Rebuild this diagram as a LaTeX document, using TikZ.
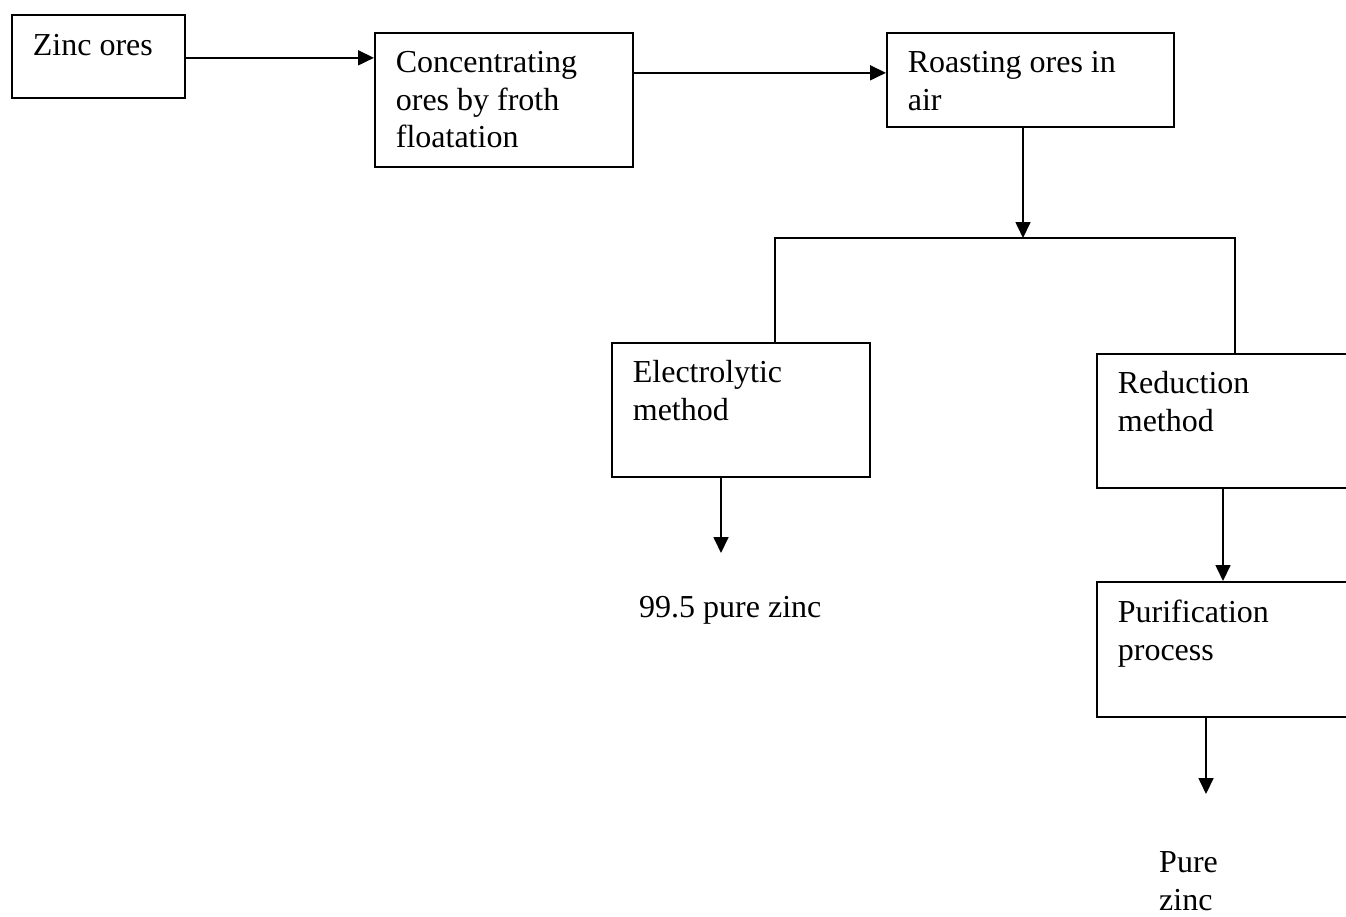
\documentclass[tikz,border=0pt]{standalone}
\usepackage{fontspec}
\setmainfont{Liberation Serif}
\usetikzlibrary{positioning, arrows.meta}

\begin{document}
\begin{tikzpicture}[
    x=1pt, y=-1pt,
    font=\fontsize{32}{37.5}\selectfont,
    stagebox/.style={draw=black, line width=1.7pt, anchor=north west, align=flush left,
        inner xsep=21pt, inner ysep=0pt, text height=40pt},
    plain/.style={anchor=base west, align=flush left, inner sep=0pt},
    joined/.style={line width=1.7pt},
    directed/.style={-{Triangle[length=16pt,width=15pt]}, line width=1.7pt}
]
\useasboundingbox (0,0) rectangle (1346,916);
\clip (0,0) rectangle (1346,916);

% Nodes
\node[stagebox, text width=131pt, text height=41pt, text depth=42pt] (ores) at (11,14) {Zinc ores};
\node[stagebox, text width=216pt, text depth=94pt] (conc) at (374,32) {Concentrating\\ores by froth\\floatation};
\node[stagebox, text width=245pt, text depth=54pt] (roast) at (886,32) {Roasting ores in\\air};
\node[stagebox, text width=216pt, text depth=94pt] (elec) at (611,342) {Electrolytic\\method};
\node[stagebox, text width=238pt, text depth=94pt] (red) at (1096,353) {Reduction\\method};
\node[stagebox, text width=238pt, text height=41pt, text depth=94pt] (pur) at (1096,581) {Purification\\process};
\node[plain] (impure) at (639,617) {99.5 pure zinc};
\node[plain] (pure) at (1159,910) {Pure\\zinc};

\coordinate (split) at (1023,238);
\coordinate (elecout) at (721,553);
\coordinate (purout) at (1206,794);

% Edges
\draw[directed] ([yshift=-1.5pt]ores.east) -- ([yshift=-1.5pt]ores.east -| conc.west);
\draw[directed] (conc.east |- roast.base) -- (roast.west |- roast.base);
\draw[directed] (roast.south -| split) -- (split);
\draw[joined] ([xshift=164pt]elec.north west) |- (split) -| ([xshift=139pt]red.north west);
\draw[directed] (elec.south -| elecout) -- (elecout);
\draw[directed] ([xshift=127pt]red.south west) -- ([xshift=127pt]pur.north west);
\draw[directed] (pur.south -| purout) -- (purout);

\end{tikzpicture}
\end{document}
